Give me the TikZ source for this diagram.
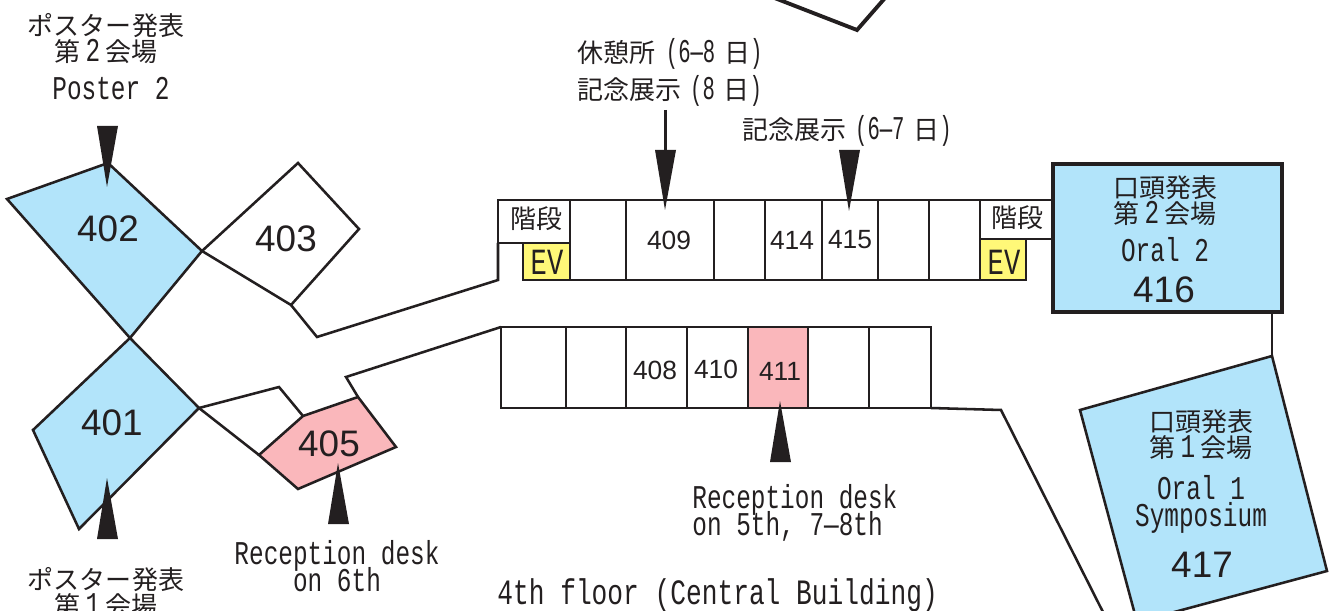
\documentclass[tikz,border=0pt]{standalone}
\usepackage{fontspec}
\usepackage{xcolor}
\setmainfont{Liberation Sans}
\newfontfamily\jpfont{Noto Sans CJK JP}
\newfontfamily\latfont[FakeStretch=0.735]{Liberation Mono}
\newfontfamily\narrowfont[FakeStretch=0.62]{Liberation Mono}
\newcommand{\jp}{\jpfont\fontsize{14.8}{14.8}\selectfont}
\newcommand{\lat}{\latfont\fontsize{18.9}{15.3}\selectfont\lineskiplimit=-20pt}
\newcommand{\nar}{\narrowfont\fontsize{18.9}{15.3}\selectfont}
\newcommand{\jnum}[1]{\hspace{3pt}{\lat #1}\hspace{3pt}}
\definecolor{ink}{HTML}{231F20}
\definecolor{roomblue}{HTML}{B2E4FA}
\definecolor{roompink}{HTML}{FAB7BB}
\definecolor{evyellow}{HTML}{FFF878}
\tikzset{
    wall/.style={draw=ink, line width=1.45pt, line join=miter},
    pointer/.style={fill=ink},
    jplabel/.style={text=ink, inner sep=0, align=center, font=\jp},
    latlabel/.style={text=ink, inner sep=0, align=center, font=\lat},
    evlabel/.style={text=ink, inner sep=0, font=\latfont\fontsize{21}{21}\selectfont},
    bignum/.style={text=ink, inner sep=0, font=\fontsize{21}{21}\selectfont},
    smallnum/.style={text=ink, inner sep=0, font=\fontsize{15}{15}\selectfont}
}

\begin{document}
\begin{tikzpicture}[x=0.02cm, y=-0.02cm]
    \clip (0,0) rectangle (1335,611);

    % Rooms on the left
    \draw[wall, fill=roomblue] (108,163) -- (7,199) -- (130,338) -- (202,251) -- cycle;
    \draw[wall, fill=roomblue] (130,338) -- (199,408) -- (79,529) -- (33,430) -- cycle;
    \draw[wall] (202,251) -- (298,163) -- (359,229) -- (291,305) -- cycle;
    \draw[wall, fill=roompink] (303,416) -- (358,397) -- (396,447) -- (298,489) -- (259,455) -- cycle;

    % Corridor walls
    \draw[wall] (291,305) -- (317,337) -- (498,280) -- (498,243);
    \draw[wall] (199,408) -- (279,387) -- (303,416);
    \draw[wall] (199,408) -- (259,455);
    \draw[wall] (358,397) -- (346,377) -- (501,327);
    \draw[wall] (931,408) -- (1001,410) -- (1107,620);
    \draw[wall] (1272,312) -- (1272,356);

    % Upper row
    \draw[wall, fill=evyellow] (523,243) rectangle (570,280);
    \draw[wall, fill=evyellow] (980,239) rectangle (1026,280);
    \draw[wall] (498,243) -- (498,200) -- (1053,200);
    \draw[wall] (498,243) -- (570,243);
    \draw[wall] (570,280) -- (980,280);
    \draw[wall] (980,239) -- (1053,239);
    \foreach \x in {570,626,714,765,822,878,929,980}
        \draw[wall] (\x,200) -- (\x,280);

    % Lower row
    \draw[wall, fill=roompink] (748,327) rectangle (808,408);
    \draw[wall] (501,327) rectangle (931,408);
    \foreach \x in {566,626,687,869}
        \draw[wall] (\x,327) -- (\x,408);

    % Oral rooms
    \draw[wall, line width=1.75pt, fill=roomblue] (1053,164) rectangle (1282,312);
    \draw[wall, fill=roomblue] (1272,356) -- (1080,410) -- (1137,622) -- (1327,571) -- cycle;

    % Piece of the building above
    \draw[wall, line width=2.2pt] (754,-10) -- (857,30) -- (892,-10);

    % Pointers
    \fill[pointer] (97,126) -- (118,126) -- (107,187) -- cycle;
    \fill[pointer] (97,539) -- (118,539) -- (107,478) -- cycle;
    \fill[pointer] (328,524) -- (349,524) -- (338,463) -- cycle;
    \fill[pointer] (655,150) -- (676,150) -- (665,210) -- cycle;
    \draw[ink, line width=1.4pt] (665.5,110) -- (665.5,150);
    \fill[pointer] (839,150) -- (860,150) -- (849,211) -- cycle;
    \fill[pointer] (770,462) -- (791,462) -- (780,401) -- cycle;

    % Room numbers
    \node[bignum] (n402) at (108,229) {402};
    \node[bignum] (n403) at (286,239) {403};
    \node[bignum] (n401) at (112,423) {401};
    \node[bignum] (n405) at (329,444) {405};
    \node[bignum] (n416) at (1164,290) {416};
    \node[bignum] (n417) at (1202,565) {417};
    \node[smallnum] (n409) at (669,240) {409};
    \node[smallnum] (n414) at (792,240) {414};
    \node[smallnum] (n415) at (850,240) {415};
    \node[smallnum] (n408) at (655,370) {408};
    \node[smallnum] (n410) at (716,369) {410};
    \node[smallnum] (n411) at (780,371) {411};

    % Poster labels
    \node[jplabel] (poster2jp) at (106,39) {ポスター発表\\第\jnum{2}会場};
    \node[latlabel] (poster2) at (111,89) {Poster 2};
    \node[jplabel] (poster1jp) at (106,593) {ポスター発表\\第\jnum{1}会場};

    % Stairs and lifts
    \node[jplabel] (stairsL) at (536,219) {階段};
    \node[jplabel] (stairsR) at (1017,218) {階段};
    \node[evlabel] (evL) at (547,262) {EV};
    \node[evlabel] (evR) at (1004,262) {EV};

    % Upper labels
    \node[jplabel, anchor=west] (restjp) at (577,54) {休憩所\hspace{6pt}{\nar (6—8}\hspace{5pt}日{\nar )}};
    \node[jplabel, anchor=west] (memorial8) at (577,91) {記念展示\hspace{5pt}{\nar (8}\hspace{5pt}日{\nar )}};
    \node[jplabel, anchor=west] (memorial67) at (742,131) {記念展示\hspace{5pt}{\nar (6—7}\hspace{5pt}日{\nar )}};

    % Oral labels
    \node[jplabel] (oral2jp) at (1165,201) {口頭発表\\第\jnum{2}会場};
    \node[latlabel] (oral2) at (1165,250) {Oral 2};
    \node[jplabel] (oral1jp) at (1201,435) {口頭発表\\第\jnum{1}会場};
    \node[latlabel] (oral1) at (1201,504) {Oral 1\\Symposium};

    % Reception labels
    \node[latlabel] (desk6) at (337,566) {Reception desk\\on 6th};
    \node[latlabel, align=left, anchor=west] (desk57) at (692,513) {Reception desk\\on 5th, 7—8th};

    % Title
    \node[latlabel, anchor=west, font=\latfont\fontsize{20.3}{20.3}\selectfont] (floor) at (497,595) {4th floor (Central Building)};
\end{tikzpicture}
\end{document}
